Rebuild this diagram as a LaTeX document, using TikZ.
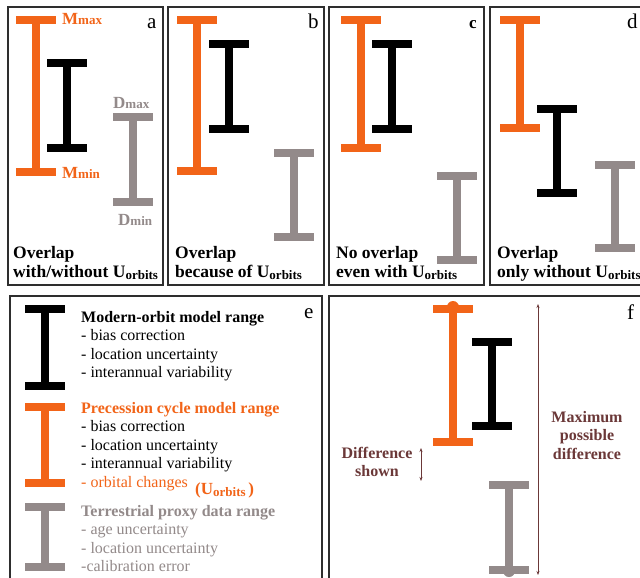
\documentclass[tikz,border=0pt]{standalone}
\usepackage{fontspec}
\setmainfont{Liberation Serif}
\usetikzlibrary{arrows.meta}
\definecolor{morange}{HTML}{F26418}
\definecolor{dgray}{HTML}{938A8A}
\definecolor{dbrown}{HTML}{6B3838}
\definecolor{framegray}{HTML}{2E2E2E}
% one range bar: x, top, bottom, colour
\newcommand{\ibar}[4]{%
  \draw[#4, line width=7.5pt] (#1,#2) -- (#1,#3);
  \fill[#4] (#1-20,#2-4) rectangle (#1+20,#2+4);
  \fill[#4] (#1-20,#3-4) rectangle (#1+20,#3+4);}
\newcommand{\subtxt}[1]{{\fontsize{13}{13}\selectfont #1}}
\newcommand{\Uorb}{U\raisebox{-2pt}{\subtxt{orbits}}}

\begin{document}
\begin{tikzpicture}[x=1pt,y=-1pt,
    paneltag/.style={inner sep=0, anchor=base west, font=\fontsize{21}{21}\selectfont},
    captxt/.style={inner sep=0, anchor=base west, align=left, font=\bfseries\fontsize{17.5}{19}\selectfont},
    legtxt/.style={inner sep=0, anchor=base west, font=\fontsize{16}{18}\selectfont},
    bndtxt/.style={inner sep=0, anchor=base west, font=\bfseries\fontsize{17}{17}\selectfont},
    difftxt/.style={inner sep=0, anchor=base, text=dbrown, font=\bfseries\fontsize{16}{18}\selectfont},
    frame/.style={draw=framegray, line width=2pt},
    diffarrow/.style={{Stealth[length=4pt,width=3pt]}-{Stealth[length=4pt,width=3pt]}, draw=dbrown, line width=0.8pt}]
  \useasboundingbox (0,0) rectangle (640,578);
  \clip (0,0) rectangle (640,578);
  \fill[white] (0,0) rectangle (640,578);

  % panel frames
  \draw[frame] (8,7) rectangle (163,285);
  \draw[frame] (168,7) rectangle (324,285);
  \draw[frame] (329,7) rectangle (484,285);
  \draw[frame] (490,7) rectangle (660,285);
  \draw[frame] (10,296) rectangle (322,600);
  \draw[frame] (329,296) rectangle (660,600);

  % a
  \ibar{36}{20}{172}{morange}
  \ibar{67}{63}{148}{black}
  \ibar{133}{117}{202}{dgray}
  \node[bndtxt, text=morange] (mmax) at (62,25) {M\subtxt{max}};
  \node[bndtxt, text=morange] (mmin) at (62,178) {M\subtxt{min}};
  \node[bndtxt, text=dgray] (dmax) at (113,108) {D\subtxt{max}};
  \node[bndtxt, text=dgray] (dmin) at (118,225) {D\subtxt{min}};
  \node[paneltag] (taga) at (147,29) {a};
  \node[captxt] (capa1) at (13,258) {Overlap};
  \node[captxt] (capa2) at (13,277) {with/without \Uorb};

  % b
  \ibar{197}{20}{171}{morange}
  \ibar{229}{44}{129}{black}
  \ibar{294}{153}{237}{dgray}
  \node[paneltag] (tagb) at (308,29) {b};
  \node[captxt] (capb1) at (175,258) {Overlap};
  \node[captxt] (capb2) at (175,277) {because of \Uorb};

  % c
  \ibar{361}{20}{148}{morange}
  \ibar{392}{44}{129}{black}
  \ibar{457}{176}{260}{dgray}
  \node[paneltag, font=\bfseries\fontsize{17}{17}\selectfont] (tagc) at (469,29) {c};
  \node[captxt] (capc1) at (336,258) {No overlap};
  \node[captxt] (capc2) at (336,277) {even with \Uorb};

  % d
  \ibar{520}{20}{128}{morange}
  \ibar{557}{109}{193}{black}
  \ibar{615}{165}{248}{dgray}
  \node[paneltag] (tagd) at (627,29) {d};
  \node[captxt] (capd1) at (497,258) {Overlap};
  \node[captxt] (capd2) at (497,277) {only without \Uorb};

  % e: legend
  \ibar{45}{309}{386}{black}
  \ibar{45}{407}{483}{morange}
  \ibar{45}{507}{567}{dgray}
  \node[paneltag] (tage) at (304,318) {e};
  \node[legtxt, font=\bfseries\fontsize{16}{18}\selectfont] (modt) at (81,322) {Modern-orbit model range};
  \foreach \txt [count=\i] in {bias correction, location uncertainty, interannual variability}
    \node[legtxt] (mod\i) at (81,322+18.5*\i) {- \txt};
  \node[legtxt, text=morange, font=\bfseries\fontsize{16}{18}\selectfont] (prct) at (81,413) {Precession cycle model range};
  \foreach \txt [count=\i] in {bias correction, location uncertainty, interannual variability}
    \node[legtxt] (prc\i) at (81,413+18.5*\i) {- \txt};
  \node[legtxt, text=morange] (prc4) at (81,487) {- orbital changes};
  \node[bndtxt, text=morange] (uorb) at (195,494) {(\Uorb\,)};
  \node[legtxt, text=dgray, font=\bfseries\fontsize{16}{18}\selectfont] (tert) at (81,516) {Terrestrial proxy data range};
  \node[legtxt, text=dgray] (ter1) at (81,534.5) {- age uncertainty};
  \node[legtxt, text=dgray] (ter2) at (81,553) {- location uncertainty};
  \node[legtxt, text=dgray] (ter3) at (81,571.5) {-calibration error};

  % f
  \ibar{453}{309}{442}{morange}
  \fill[morange] (453,307) circle (6);
  \ibar{492}{342}{426}{black}
  \ibar{509}{485}{570}{dgray}
  \fill[dgray] (509,571) circle (6);
  \node[paneltag] (tagf) at (627,319) {f};
  \coordinate (maxtop) at (538,304);
  \coordinate (maxbot) at (538,575);
  \draw[diffarrow] (maxtop) -- (maxbot);
  \coordinate (shtop) at (421,448);
  \coordinate (shbot) at (421,481);
  \draw[diffarrow] (shtop) -- (shbot);
  \node[difftxt] (max1) at (587,422) {Maximum};
  \node[difftxt] (max2) at (587,440.5) {possible};
  \node[difftxt] (max3) at (587,459) {difference};
  \node[difftxt] (sh1) at (377,458) {Difference};
  \node[difftxt] (sh2) at (377,476.5) {shown};
\end{tikzpicture}
\end{document}
